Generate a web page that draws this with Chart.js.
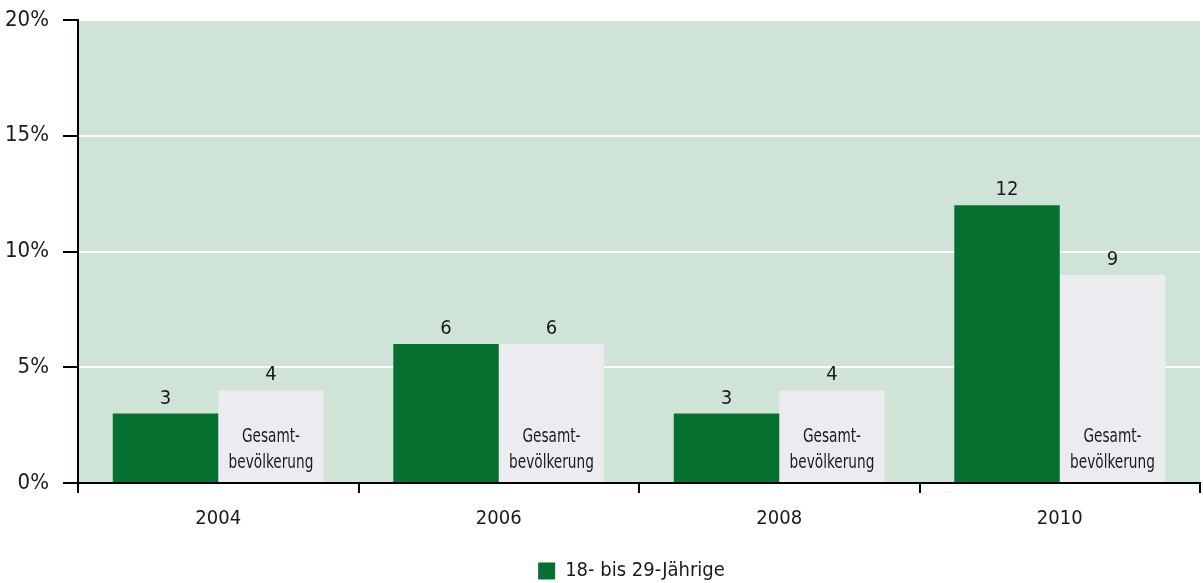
<!DOCTYPE html>
<html>
<head>
<meta charset="utf-8">
<script src="https://cdn.jsdelivr.net/npm/chart.js@4/dist/chart.umd.min.js"></script>
<style>
  html, body { margin: 0; padding: 0; background: #fff; }
  #wrap { width: 1203px; height: 583px; }
</style>
</head>
<body>
<div id="wrap"><canvas id="chart"></canvas></div>
<script>
const years = ['2004', '2006', '2008', '2010'];
const youngShare = [3, 6, 3, 12];
const totalShare = [4, 6, 4, 9];
const yTicks = [0, 5, 10, 15, 20];
const seriesNames = ['18- bis 29-Jährige', 'Gesamtbevölkerung'];
const innerLabel = ['Gesamt-', 'bevölkerung'];

const FONT = '"DejaVu Sans Condensed", sans-serif';

// light green plot background
const plotBg = {
  id: 'plotBg',
  beforeDraw(chart) {
    const { ctx, chartArea: a } = chart;
    ctx.save();
    ctx.fillStyle = '#cfe4d6';
    ctx.fillRect(a.left, a.top, a.right - a.left, a.bottom - a.top);
    ctx.restore();
  }
};

// legend sits under the plot centre and a little lower than default
const legendShift = {
  id: 'legendShift',
  afterLayout(chart) {
    if (!chart.legend) return;
    chart.legend.left = chart.chartArea.left - 15;
    chart.legend.top += 8;
  }
};

// value above each bar, two-line caption inside the grey bars
const barLabels = {
  id: 'barLabels',
  afterDatasetsDraw(chart) {
    const ctx = chart.ctx;
    ctx.save();
    ctx.fillStyle = '#1a1a1a';
    ctx.textAlign = 'center';
    ctx.textBaseline = 'alphabetic';
    chart.data.datasets.forEach((ds, i) => {
      chart.getDatasetMeta(i).data.forEach((bar, j) => {
        ctx.font = '20px ' + FONT;
        ctx.fillText(ds.data[j], bar.x, bar.y - 10);
        if (i === 1) {
          ctx.save();
          ctx.translate(bar.x, bar.base);
          ctx.scale(0.8, 1);
          ctx.font = '19px ' + FONT;
          ctx.fillText(innerLabel[0], 0, -40);
          ctx.fillText(innerLabel[1], 0, -14);
          ctx.restore();
        }
      });
    });
    ctx.restore();
  }
};

new Chart(document.getElementById('chart'), {
  type: 'bar',
  data: {
    labels: years,
    datasets: [
      { label: seriesNames[0], data: youngShare, backgroundColor: '#067030' },
      { label: seriesNames[1], data: totalShare, backgroundColor: '#ececf0' }
    ]
  },
  options: {
    responsive: true,
    maintainAspectRatio: false,
    animation: false,
    barPercentage: 1,
    categoryPercentage: 0.752,
    layout: { padding: { top: 20, right: 3, left: 2, bottom: 0 } },
    plugins: {
      tooltip: { enabled: false },
      legend: {
        position: 'bottom',
        labels: {
          filter: item => item.datasetIndex === 0,
          color: '#1a1a1a',
          font: { family: FONT, size: 20 },
          boxWidth: 17,
          boxHeight: 17,
          padding: 3
        }
      }
    },
    scales: {
      x: {
        afterFit: axis => { axis.height = 67; },
        grid: {
          offset: true,
          drawOnChartArea: false,
          color: '#000',
          tickColor: '#000',
          tickLength: 10,
          lineWidth: 2
        },
        border: { color: '#000', width: 2 },
        ticks: { color: '#1a1a1a', font: { family: FONT, size: 20 }, padding: 14 }
      },
      y: {
        min: 0,
        max: 20,
        afterBuildTicks: axis => { axis.ticks = yTicks.map(v => ({ value: v })); },
        afterFit: axis => {
          axis.width = 76;
          axis.paddingTop = 0;
          axis.paddingBottom = 0;
        },
        grid: {
          color: '#ffffff',
          lineWidth: 2,
          tickColor: '#000',
          tickLength: 15
        },
        border: { color: '#000', width: 2 },
        ticks: {
          color: '#1a1a1a',
          font: { family: FONT, size: 22 },
          padding: 14,
          callback: v => v + '%'
        }
      }
    }
  },
  plugins: [plotBg, legendShift, barLabels]
});
</script>
</body>
</html>
